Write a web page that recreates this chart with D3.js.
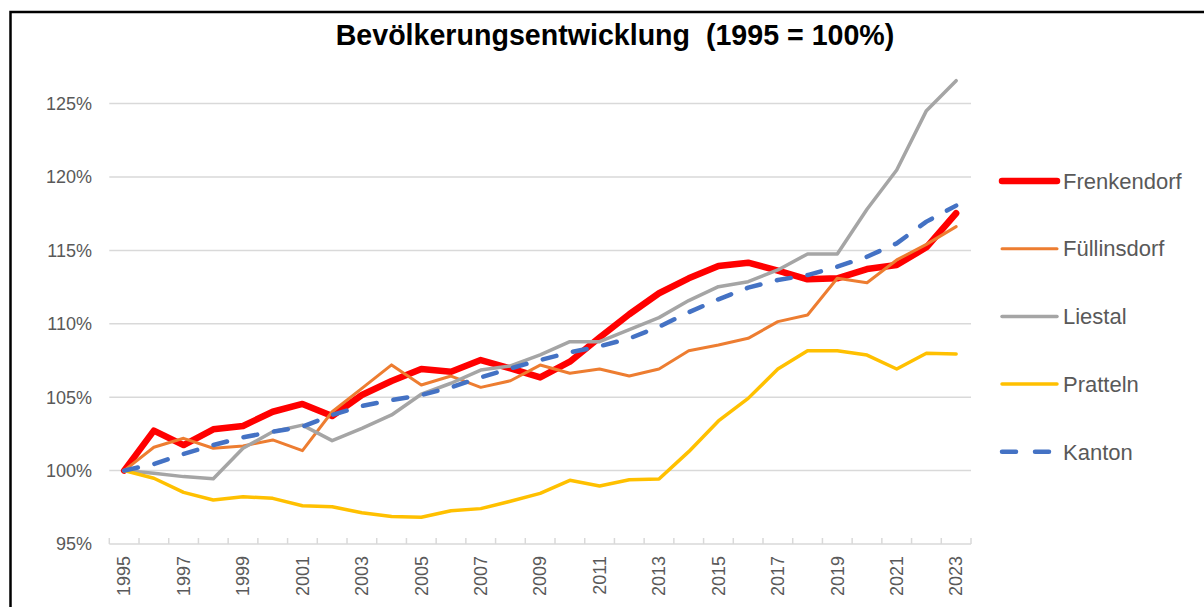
<!DOCTYPE html>
<html>
<head>
<meta charset="utf-8">
<script src="https://cdn.jsdelivr.net/npm/d3@7"></script>
<style>
  body { margin: 0; background: #fff; }
  svg { display: block; font-family: "Liberation Sans", Arial, sans-serif; }
</style>
</head>
<body>
<div id="chart"></div>
<script>
// data (index, 1995 = 100)
const years = d3.range(1995, 2024).map(String);
const yTicks = [95, 100, 105, 110, 115, 120, 125];

const frenkendorf = [100, 102.72, 101.74, 102.81, 103.04, 104.01, 104.54, 103.72, 105.15, 106.1,
    106.92, 106.74, 107.53, 106.96, 106.35, 107.42, 109.07, 110.65, 112.08, 113.1,
    113.94, 114.16, 113.62, 113.03, 113.1, 113.73, 114.0, 115.21, 117.53];
const fuellinsdorf = [100, 101.59, 102.2, 101.52, 101.68, 102.09, 101.36, 104.01, 105.6, 107.2,
    105.83, 106.44, 105.67, 106.12, 107.19, 106.63, 106.92, 106.44, 106.92, 108.17,
    108.56, 109.01, 110.15, 110.6, 113.1, 112.8, 114.35, 115.41, 116.62];
const liestal = [100, 99.82, 99.59, 99.44, 101.52, 102.65, 103.1, 102.04, 102.88, 103.79,
    105.2, 105.95, 106.85, 107.13, 107.88, 108.78, 108.78, 109.6, 110.42, 111.58,
    112.53, 112.87, 113.67, 114.76, 114.76, 117.8, 120.48, 124.52, 126.56];
const pratteln = [100, 99.48, 98.52, 98.0, 98.22, 98.11, 97.61, 97.54, 97.13, 96.88,
    96.82, 97.27, 97.41, 97.91, 98.45, 99.34, 98.95, 99.38, 99.43, 101.29,
    103.38, 104.92, 106.92, 108.17, 108.17, 107.87, 106.92, 107.99, 107.94];
const kanton = [100, 100.45, 101.13, 101.74, 102.27, 102.65, 102.99, 103.79, 104.4, 104.8,
    105.15, 105.67, 106.35, 106.96, 107.53, 108.05, 108.47, 109.0, 109.8, 110.78,
    111.67, 112.46, 112.98, 113.32, 113.89, 114.57, 115.48, 116.96, 118.05];

const series = [
    {name: "Frenkendorf", values: frenkendorf, color: "#FF0000", width: 6.5, dash: null},
    {name: "Füllinsdorf", values: fuellinsdorf, color: "#ED7D31", width: 3, dash: null},
    {name: "Liestal", values: liestal, color: "#A5A5A5", width: 3.5, dash: null},
    {name: "Pratteln", values: pratteln, color: "#FFC000", width: 3.5, dash: null},
    {name: "Kanton", values: kanton, color: "#4472C4", width: 4.5, dash: "14,17"}
];

const width = 1204, height = 607;

const svg = d3.select("#chart").append("svg")
    .attr("width", width)
    .attr("height", height);

// outer chart frame (right and bottom edges are off the picture)
svg.append("rect")
    .attr("x", 10.5).attr("y", 12)
    .attr("width", 1300).attr("height", 700)
    .attr("fill", "none")
    .attr("stroke", "#000")
    .attr("stroke-width", 2.5);

// scales
const x = d3.scaleBand()
    .domain(years)
    .range([109.3, 971])
    .padding(0);

const y = d3.scaleLinear()
    .domain([95, 130])
    .range([544, 30.2]);

const cx = d => x(d) + x.bandwidth() / 2;

// gridlines
svg.append("g")
    .selectAll("line")
    .data(yTicks.slice(1))
    .enter().append("line")
    .attr("x1", 109.3).attr("x2", 971)
    .attr("y1", d => y(d)).attr("y2", d => y(d))
    .attr("stroke", "#D9D9D9")
    .attr("stroke-width", 1.5);

// y labels
svg.append("g")
    .selectAll("text")
    .data(yTicks)
    .enter().append("text")
    .attr("x", 92)
    .attr("y", d => y(d))
    .attr("dy", "0.35em")
    .attr("text-anchor", "end")
    .attr("font-size", 18)
    .attr("fill", "#595959")
    .text(d => d + "%");

// x axis line with tick marks
const xAxis = svg.append("g");
xAxis.append("line")
    .attr("x1", 109.3).attr("x2", 971)
    .attr("y1", y(95)).attr("y2", y(95))
    .attr("stroke", "#D9D9D9")
    .attr("stroke-width", 1.5);

xAxis.selectAll(".tick")
    .data(years.concat(["end"]))
    .enter().append("line")
    .attr("class", "tick")
    .attr("x1", d => d === "end" ? 971 : x(d))
    .attr("x2", d => d === "end" ? 971 : x(d))
    .attr("y1", y(95) - 6)
    .attr("y2", y(95))
    .attr("stroke", "#D9D9D9")
    .attr("stroke-width", 1.5);

xAxis.selectAll(".label")
    .data(years.filter((d, i) => i % 2 === 0))
    .enter().append("text")
    .attr("class", "label")
    .attr("transform", d => `translate(${cx(d)}, 556) rotate(-90)`)
    .attr("dy", "0.35em")
    .attr("text-anchor", "end")
    .attr("font-size", 18)
    .attr("fill", "#595959")
    .text(d => d);

// lines
const line = d3.line()
    .x((d, i) => cx(years[i]))
    .y(d => y(d));

svg.append("g")
    .selectAll("path")
    .data(series)
    .enter().append("path")
    .attr("d", d => line(d.values))
    .attr("fill", "none")
    .attr("stroke", d => d.color)
    .attr("stroke-width", d => d.width)
    .attr("stroke-linejoin", "round")
    .attr("stroke-linecap", "round")
    .attr("stroke-dasharray", d => d.dash);

// legend
const legend = svg.append("g")
    .selectAll("g")
    .data(series)
    .enter().append("g")
    .attr("transform", (d, i) => `translate(0, ${181 + i * 67.7})`);

legend.append("line")
    .attr("x1", 1002).attr("x2", 1057)
    .attr("stroke", d => d.color)
    .attr("stroke-width", d => d.width)
    .attr("stroke-linecap", "round")
    .attr("stroke-dasharray", d => d.dash ? "14,19" : null);

legend.append("text")
    .attr("x", 1063)
    .attr("dy", "0.35em")
    .attr("font-size", 22)
    .attr("fill", "#595959")
    .text(d => d.name);

// title
svg.append("text")
    .attr("x", 615)
    .attr("y", 45)
    .attr("text-anchor", "middle")
    .attr("font-size", 28.6)
    .attr("font-weight", "bold")
    .attr("fill", "#000")
    .style("white-space", "pre")
    .text("Bevölkerungsentwicklung  (1995 = 100%)");
</script>
</body>
</html>
